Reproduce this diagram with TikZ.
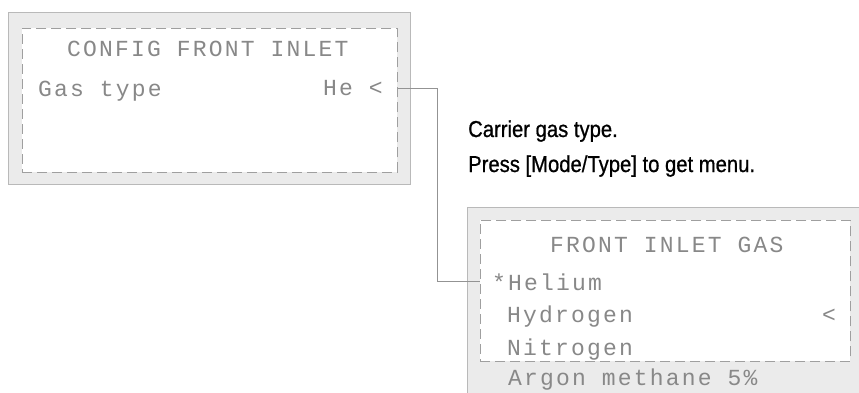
\documentclass[tikz,border=0pt]{standalone}
\usepackage{fontspec}
\usetikzlibrary{positioning}
\newfontfamily\lcdfont[LetterSpace=9.5]{Liberation Mono}
\newfontfamily\notefont[FakeStretch=0.88, FakeBold=0.8]{Liberation Sans}
\definecolor{panelgray}{HTML}{EBEBEB}
\definecolor{lcdgray}{HTML}{888888}
\begin{document}
\begin{tikzpicture}[
  x=1pt, y=-1pt,
  panel/.style={draw=gray!55, fill=panelgray, line width=0.6pt, inner sep=0pt, anchor=north west},
  screen/.style={draw=gray!75, fill=white, dash pattern=on 10pt off 5pt, line width=0.7pt, inner sep=0pt, anchor=north west},
  lcd/.style={anchor=base west, inner sep=0pt, text=lcdgray, font=\lcdfont\fontsize{23}{23}\selectfont},
  note/.style={anchor=base west, inner sep=0pt, font=\notefont\fontsize{23}{28}\selectfont},
  link/.style={draw=gray!85, line width=0.7pt}
]
\clip (0,0) rectangle (859,393);
% config display
\node[panel, minimum width=402pt, minimum height=172pt] (cfgpanel) at (8,12) {};
\node[screen, minimum width=375pt, minimum height=144pt] (cfgscreen) at (22,28) {};
\node[lcd] (cfgtitle) at (67,57) {CONFIG FRONT INLET};
\node[lcd] (gastype) at (38,97) {Gas type};
\node[lcd] (he) at (323,96) {He <};
% gas menu display
\node[panel, minimum width=420pt, minimum height=200pt] (gaspanel) at (467,207) {};
\node[screen, minimum width=370pt, minimum height=141pt] (gasscreen) at (480,220) {};
\node[lcd] (gastitle) at (550,252) {FRONT INLET GAS};
\node[lcd] (helium) at (492,290) {*Helium};
\node[lcd] (hydrogen) at (507,322) {Hydrogen};
\node[lcd] (cursor) at (822,322) {<};
\node[lcd] (nitrogen) at (507,355) {Nitrogen};
\node[lcd] (argon) at (508,385) {Argon methane 5\%};
% note
\node[note] (carrier) at (468,137) {Carrier gas type.};
\node[note] (press) at (468,172) {Press [Mode/Type] to get menu.};
\draw[link] (cfgscreen.east |- he) -- ++(40,0) |- (gasscreen.west |- helium);
\end{tikzpicture}
\end{document}
